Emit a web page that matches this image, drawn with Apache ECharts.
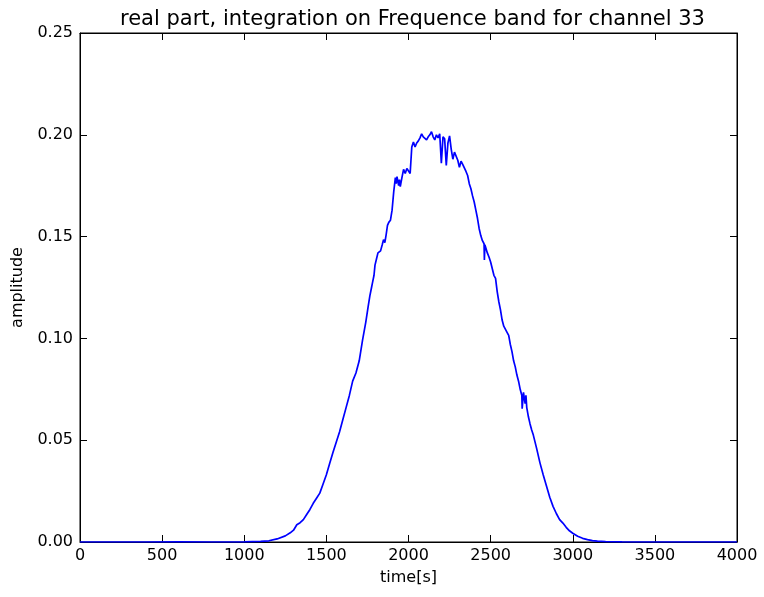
<!DOCTYPE html>
<html>
<head>
<meta charset="utf-8">
<script src="https://cdn.jsdelivr.net/npm/echarts@6/dist/echarts.min.js"></script>
<style>html,body{margin:0;padding:0;background:#fff;}#c{width:764px;height:597px;}</style>
</head>
<body>
<div id="c"></div>
<script>
var chartTitle = "real part, integration on Frequence band for channel 33";
var xName = "time[s]";
var yName = "amplitude";
var xTicks = [0, 500, 1000, 1500, 2000, 2500, 3000, 3500, 4000];
var yTicks = [0.00, 0.05, 0.10, 0.15, 0.20, 0.25];

var timeS = [0,200,400,600,800,1000,1100,1150,1200,1250,1280,1300,1320,1340,1360,1380,1400,1420,1440,1460,1480,1500,1520,1540,1560,1580,1600,1620,1640,1660,1680,1700,1720,1740,1755,1765,1775,1780,1790,1796,1805,1814,1822,1830,1840,1848,1856,1864,1872,1880,1890,1900,1910,1920,1925,1930,1940,1945,1950,1960,1970,1980,1990,2000,2010,2020,2030,2040,2050,2060,2070,2080,2090,2100,2110,2120,2130,2140,2150,2160,2170,2180,2190,2200,2210,2220,2230,2240,2250,2260,2270,2280,2290,2300,2310,2320,2330,2340,2350,2360,2370,2380,2390,2400,2410,2420,2430,2440,2450,2460,2462,2465,2480,2490,2500,2520,2530,2540,2550,2560,2570,2580,2600,2610,2620,2630,2640,2650,2660,2670,2680,2690,2692,2700,2710,2715,2720,2730,2740,2750,2760,2780,2800,2820,2840,2860,2880,2900,2920,2940,2960,2980,3000,3030,3060,3090,3120,3150,3200,3300,3500,4000];
var amplitude = [0,0,0,0.0001,0,0.0001,0.0003,0.0006,0.0015,0.003,0.0045,0.0058,0.0085,0.0095,0.011,0.0135,0.016,0.019,0.0215,0.024,0.0285,0.033,0.0385,0.044,0.049,0.054,0.060,0.066,0.072,0.079,0.083,0.089,0.099,0.108,0.116,0.121,0.125,0.127,0.131,0.136,0.139,0.142,0.1415,0.143,0.146,0.1485,0.147,0.151,0.1555,0.157,0.158,0.163,0.172,0.179,0.176,0.1795,0.175,0.178,0.1745,0.179,0.183,0.181,0.1835,0.183,0.181,0.194,0.1965,0.194,0.196,0.197,0.1985,0.2005,0.199,0.1995,0.1975,0.199,0.2,0.2015,0.199,0.1975,0.2,0.1985,0.2005,0.186,0.199,0.198,0.185,0.196,0.1995,0.193,0.188,0.1915,0.192,0.1875,0.184,0.187,0.1855,0.186,0.182,0.180,0.176,0.1735,0.17,0.167,0.163,0.159,0.154,0.1505,0.148,0.1465,0.1385,0.146,0.142,0.140,0.1375,0.131,0.1295,0.123,0.118,0.114,0.109,0.106,0.103,0.1015,0.097,0.0935,0.089,0.086,0.082,0.079,0.075,0.072,0.0655,0.0735,0.068,0.072,0.066,0.0615,0.058,0.055,0.0525,0.046,0.039,0.033,0.0275,0.022,0.0175,0.014,0.011,0.0093,0.0072,0.0055,0.0043,0.0028,0.0018,0.0012,0.0007,0.0004,0.0002,0.0001,0,0];

var pts = timeS.map(function (t, i) { return [t, amplitude[i]]; });
var FONT = "DejaVu Sans";
var xInt = xTicks[1] - xTicks[0];
var yInt = yTicks[1] - yTicks[0];
var axisLineStyle = { show: true, onZero: false, lineStyle: { color: '#000', width: 1 } };
var tickStyle = { show: true, inside: true, length: 7, lineStyle: { color: '#000', width: 1 } };

var chart = echarts.init(document.getElementById('c'), null, { renderer: 'canvas' });
chart.setOption({
  animation: false,
  backgroundColor: '#fff',
  title: {
    text: chartTitle, left: 115, top: 4,
    textStyle: { fontFamily: FONT, fontSize: 21, fontWeight: 'normal', color: '#000' }
  },
  grid: { left: 80, right: 27, top: 33, bottom: 55, containLabel: false,
    show: true, borderColor: '#000', borderWidth: 1, backgroundColor: 'transparent' },
  xAxis: [{
    type: 'value', min: xTicks[0], max: xTicks[xTicks.length - 1], interval: xInt,
    position: 'bottom',
    name: xName, nameLocation: 'middle', nameGap: 28,
    nameTextStyle: { fontFamily: FONT, fontSize: 16, color: '#000' },
    axisLine: axisLineStyle, axisTick: tickStyle,
    axisLabel: { fontFamily: FONT, fontSize: 16, color: '#000', margin: 6,
      formatter: function (v) { return String(v); } },
    splitLine: { show: false }
  }, {
    type: 'value', min: xTicks[0], max: xTicks[xTicks.length - 1], interval: xInt,
    position: 'top',
    axisLine: axisLineStyle, axisTick: tickStyle,
    axisLabel: { show: false }, splitLine: { show: false }
  }],
  yAxis: [{
    type: 'value', min: yTicks[0], max: yTicks[yTicks.length - 1], interval: yInt,
    position: 'left',
    name: yName, nameLocation: 'middle', nameGap: 54, nameRotate: 90,
    nameTextStyle: { fontFamily: FONT, fontSize: 16, color: '#000' },
    axisLine: axisLineStyle, axisTick: tickStyle,
    axisLabel: { fontFamily: FONT, fontSize: 16, color: '#000', margin: 7,
      formatter: function (v) { return v.toFixed(2); } },
    splitLine: { show: false }
  }, {
    type: 'value', min: yTicks[0], max: yTicks[yTicks.length - 1], interval: yInt,
    position: 'right',
    axisLine: axisLineStyle, axisTick: tickStyle,
    axisLabel: { show: false }, splitLine: { show: false }
  }],
  series: [{
    type: 'line', data: pts, xAxisIndex: 0, yAxisIndex: 0,
    showSymbol: false, symbol: 'none',
    lineStyle: { color: '#0000ff', width: 1.7 },
    itemStyle: { color: '#0000ff' }
  }, {
    type: 'line', data: [], xAxisIndex: 1, yAxisIndex: 1,
    showSymbol: false, symbol: 'none', silent: true
  }]
});
</script>
</body>
</html>
